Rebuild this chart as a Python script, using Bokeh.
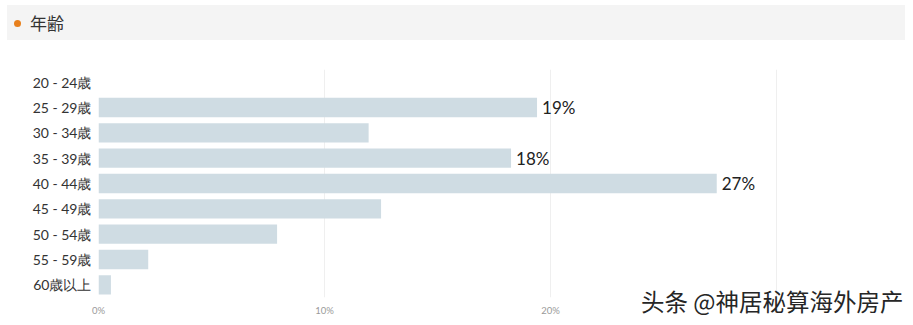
from bokeh.plotting import figure
from bokeh.layouts import column
from bokeh.models import ColumnDataSource, FactorRange, FixedTicker, PrintfTickFormatter, Range1d, Div
from bokeh.core.properties import value
from bokeh.embed import file_html
from bokeh.resources import INLINE

title_text = "年齢"
categories = ["20 - 24歳", "25 - 29歳", "30 - 34歳", "35 - 39歳", "40 - 44歳",
              "45 - 49歳", "50 - 54歳", "55 - 59歳", "60歳以上"]
values = [0.0, 19.4, 11.95, 18.25, 27.35, 12.5, 7.9, 2.2, 0.55]
bar_labels = ["", "19%", "", "18%", "27%", "", "", "", ""]
x_ticks = [0, 10, 20, 30]
watermark = "头条 @神居秘算海外房产"

header_html = f"""
<div style="position:relative;width:913px;height:45px;margin:0;padding:0;">
  <div style="position:absolute;left:7px;top:5px;width:898px;height:35px;background:#f4f4f4;"></div>
  <div style="position:absolute;left:14px;top:19.5px;width:7px;height:7px;border-radius:50%;background:#e8801c;"></div>
  <div style="position:absolute;left:30px;top:11px;font-family:'Noto Sans CJK JP';font-size:17px;line-height:23px;color:#333333;white-space:nowrap;">{title_text}</div>
  <div style="position:absolute;left:641px;top:289px;font-family:'Noto Sans CJK SC';font-size:23.5px;line-height:24px;color:#262626;white-space:nowrap;z-index:10;text-shadow:0 0 1px #ffffff;">{watermark}</div>
</div>
"""
hdr = Div(text=header_html, width=913, height=45, styles={"overflow": "visible", "margin": "0", "padding": "0"})

src = ColumnDataSource(dict(cat=categories, val=values, lab=bar_labels))
p = figure(width=913, height=280, output_backend="svg", toolbar_location=None,
           y_range=FactorRange(factors=list(reversed(categories)), range_padding=0),
           x_range=Range1d(0, 35.7),
           min_border_left=98, min_border_right=8, min_border_top=24, min_border_bottom=28,
           outline_line_color=None)
p.background_fill_color = None
p.border_fill_color = None
p.hbar(y="cat", right="val", left=0, height=0.76, source=src,
       fill_color="#cfdce3", line_color=None)
p.text(x="val", y="cat", text="lab", source=src, x_offset=5,
       text_font=value("Lato"), text_font_size="17px", text_color="#222222",
       text_baseline="middle", text_align="left")

p.xaxis.ticker = FixedTicker(ticks=x_ticks)
p.xaxis.formatter = PrintfTickFormatter(format="%d%%")
p.xaxis.major_label_overrides = {30: ""}
p.xaxis.axis_line_color = None
p.xaxis.major_tick_line_color = None
p.xaxis.minor_tick_line_color = None
p.xaxis.major_tick_out = 0
p.xaxis.minor_tick_out = 0
p.xaxis.major_label_text_font_size = "9.5px"
p.xaxis.major_label_text_color = "#9a9a9a"
p.xaxis.major_label_text_font = "Lato"
p.xaxis.major_label_standoff = 7

p.yaxis.axis_line_color = None
p.yaxis.major_tick_line_color = None
p.yaxis.minor_tick_line_color = None
p.yaxis.major_tick_out = 0
p.yaxis.minor_tick_out = 0
p.yaxis.major_label_text_font_size = "14px"
p.yaxis.major_label_text_color = "#333333"
p.yaxis.major_label_text_font = "Lato"
p.yaxis.major_label_standoff = 7

p.ygrid.grid_line_color = None
p.xgrid.grid_line_color = "#efefef"

layout = column(hdr, p, spacing=0)
open("out.html", "w").write(file_html(layout, INLINE))
